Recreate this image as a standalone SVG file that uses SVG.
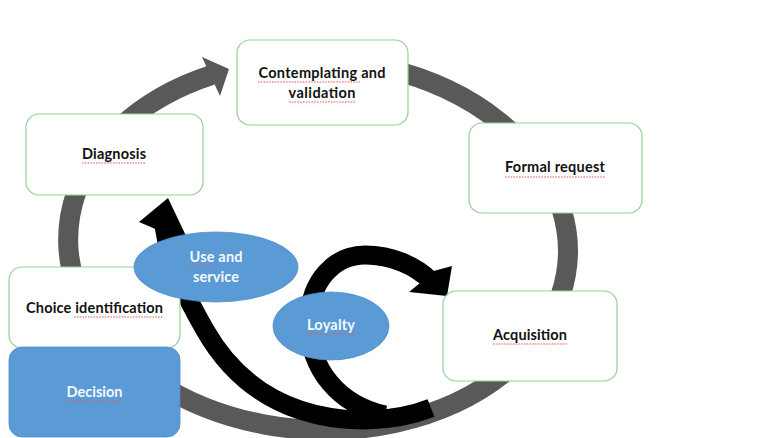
<svg xmlns="http://www.w3.org/2000/svg" width="782" height="438" viewBox="0 0 782 438">
  <defs>
    <style>
      .box { fill: #ffffff; stroke: #97d09a; stroke-width: 1.2; }
      .blue { fill: #5b9bd5; stroke: #4f8cc6; stroke-width: 0.8; }
      .lbl { font-family: Lato, "Open Sans", "Liberation Sans", sans-serif; font-weight: bold; font-size: 14.5px; text-anchor: middle; fill: #111111; }
      .wlbl { fill: #f4f8fc; }
      .gray { fill: none; stroke: #595959; stroke-width: 20; stroke-linecap: butt; }
      .blk { fill: none; stroke: #000000; stroke-width: 19; stroke-linecap: butt; }
      .sq { fill: none; stroke: #e0615f; stroke-width: 1.3; stroke-dasharray: 1.6 1.2; opacity: 0.7; }
    </style>
  </defs>
  <rect width="782" height="438" fill="#ffffff"/>

  <g id="connectors">
    <g id="cycle-arrow">
      <path class="gray" transform="rotate(3 318 245)" d="M 260 65 A 250 185 0 1 1 203 80.7"/>
      <polygon fill="#595959" points="202,57 229,69 220,96"/>
    </g>
    <g id="loop-arrows">
      <path class="blk" d="M 431 408 C 395 422, 345 425, 300 410 C 255 395, 225 365, 205 330 C 185 295, 170 265, 164 226"/>
      <polygon fill="#000000" points="139,222 168,198 187,238 172,236"/>
      <path class="blk" d="M 385 415 C 340 405, 308 370, 309 320 C 310 280, 335 255, 365 255 C 392 255, 416 266, 431 281"/>
      <polygon fill="#000000" points="452,266 447,296 409,292 420,283 430,272"/>
    </g>
  </g>

  <g id="node-contemplating">
    <rect class="box" x="237" y="40" width="171" height="85" rx="13"/>
    <text class="lbl" x="322" y="78" textLength="127">Contemplating and</text>
    <text class="lbl" x="322" y="98" textLength="67">validation</text>
    <path class="sq" d="M 258 82 H 360 M 289 102 H 356"/>
  </g>

  <g id="node-diagnosis">
    <rect class="box" x="26" y="114" width="177" height="81" rx="13"/>
    <text class="lbl" x="114" y="159" textLength="64">Diagnosis</text>
    <path class="sq" d="M 82 163 H 146"/>
  </g>

  <g id="node-formal">
    <rect class="box" x="469" y="123" width="173" height="90" rx="13"/>
    <text class="lbl" x="555" y="172" textLength="100">Formal request</text>
    <path class="sq" d="M 505 177 H 605"/>
  </g>

  <g id="node-acquisition">
    <rect class="box" x="443" y="291" width="174" height="90" rx="13"/>
    <text class="lbl" x="530" y="340" textLength="74">Acquisition</text>
    <path class="sq" d="M 493 344 H 567"/>
  </g>

  <g id="node-choice">
    <rect class="box" x="9" y="267" width="171" height="81" rx="13"/>
    <text class="lbl" x="94.5" y="313" textLength="137">Choice identification</text>
    <path class="sq" d="M 74 317 H 163"/>
  </g>

  <g id="node-decision">
    <rect class="blue" x="9" y="347" width="171" height="90" rx="13"/>
    <text class="lbl wlbl" x="94.5" y="397" textLength="56">Decision</text>
    <path class="sq" d="M 67 401 H 122"/>
  </g>

  <g id="node-use">
    <ellipse class="blue" cx="216" cy="267" rx="82" ry="35"/>
    <text class="lbl wlbl" x="216" y="262" textLength="53">Use and</text>
    <text class="lbl wlbl" x="216" y="282" textLength="46">service</text>
    <path class="sq" d="M 189 266 H 213"/>
  </g>

  <g id="node-loyalty">
    <ellipse class="blue" cx="331" cy="326" rx="58" ry="34"/>
    <text class="lbl wlbl" x="331" y="330" textLength="48">Loyalty</text>
    <path class="sq" d="M 307 334 H 355"/>
  </g>
</svg>
